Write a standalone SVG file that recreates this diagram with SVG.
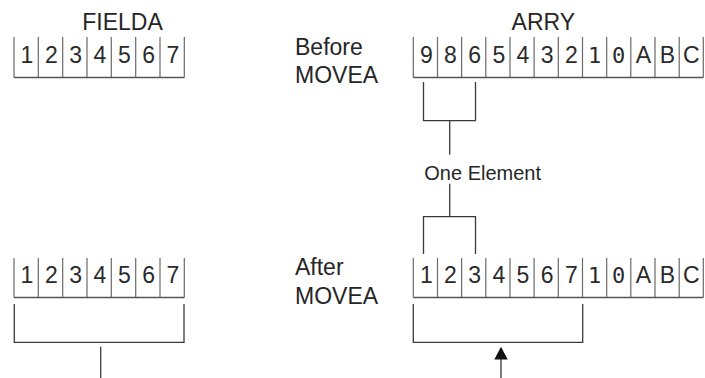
<svg xmlns="http://www.w3.org/2000/svg" width="705" height="378" viewBox="0 0 705 378">
<style>
.bg{fill:#ffffff}
.cv{stroke:#6a6a6a;stroke-width:1.2;fill:none}
.cb{stroke:#555555;stroke-width:1.4;fill:none}
.ln{stroke:#3a3a3a;stroke-width:1.3;fill:none}
.lbl{font-family:"Liberation Sans",Arial,sans-serif;font-size:23px;fill:#262626}
.small{font-family:"Liberation Sans",Arial,sans-serif;font-size:20px;fill:#262626}
.d{font-family:"Liberation Sans",Arial,sans-serif;font-size:23px;fill:#2a2a2a;text-anchor:middle}
.m{font-family:"DejaVu Sans Mono","Liberation Mono",monospace;font-size:22px;fill:#2a2a2a;text-anchor:middle}
</style>
<rect class="bg" x="0" y="0" width="705" height="378"/>

<g id="fielda-before">
  <text class="lbl" x="122.5" y="30" text-anchor="middle">FIELDA</text>
  <path class="cv" d="M14,37V77.5M38.3,37V77.5M62.7,37V77.5M87,37V77.5M111.3,37V77.5M135.7,37V77.5M160,37V77.5M184.3,37V77.5"/>
  <path class="cb" d="M14,77.5H184.3"/>
  <text class="d" x="27" y="63.3">1</text>
  <text class="d" x="51.3" y="63.3">2</text>
  <text class="d" x="75.6" y="63.3">3</text>
  <text class="d" x="100" y="63.3">4</text>
  <text class="d" x="124.3" y="63.3">5</text>
  <text class="d" x="148.6" y="63.3">6</text>
  <text class="d" x="173" y="63.3">7</text>
</g>

<g id="arry-before">
  <text class="lbl" x="543.3" y="30" text-anchor="middle">ARRY</text>
  <text class="lbl" x="295" y="55">Before</text>
  <text class="lbl" x="295" y="82.7">MOVEA</text>
  <path class="cv" d="M413.3,37V77.5M437.5,37V77.5M461.6,37V77.5M485.8,37V77.5M510,37V77.5M534.1,37V77.5M558.3,37V77.5M582.5,37V77.5M606.7,37V77.5M630.8,37V77.5M655,37V77.5M679.2,37V77.5M703.3,37V77.5"/>
  <path class="cb" d="M413.3,77.5H703.3"/>
  <text class="d" x="426.4" y="63.3">9</text>
  <text class="d" x="450.5" y="63.3">8</text>
  <text class="d" x="474.7" y="63.3">6</text>
  <text class="d" x="498.9" y="63.3">5</text>
  <text class="d" x="523" y="63.3">4</text>
  <text class="d" x="547.2" y="63.3">3</text>
  <text class="d" x="571.3" y="63.3">2</text>
  <text class="m" x="594.5" y="63.3">1</text>
  <text class="m" x="618.7" y="63.3">0</text>
  <text class="d" x="643.3" y="63.3">A</text>
  <text class="d" x="667.3" y="63.3">B</text>
  <text class="d" x="691.4" y="63.3">C</text>
</g>

<g id="one-element">
  <text class="small" x="424.3" y="180">One Element</text>
</g>

<g id="fielda-after">
  <path class="cv" d="M14,258V297.5M38.3,258V297.5M62.7,258V297.5M87,258V297.5M111.3,258V297.5M135.7,258V297.5M160,258V297.5M184.3,258V297.5"/>
  <path class="cb" d="M14,297.5H184.3"/>
  <text class="d" x="27" y="283.3">1</text>
  <text class="d" x="51.3" y="283.3">2</text>
  <text class="d" x="75.6" y="283.3">3</text>
  <text class="d" x="100" y="283.3">4</text>
  <text class="d" x="124.3" y="283.3">5</text>
  <text class="d" x="148.6" y="283.3">6</text>
  <text class="d" x="173" y="283.3">7</text>
</g>

<g id="arry-after">
  <text class="lbl" x="295" y="275">After</text>
  <text class="lbl" x="295" y="304">MOVEA</text>
  <path class="cv" d="M413.3,258V297.5M437.5,258V297.5M461.6,258V297.5M485.8,258V297.5M510,258V297.5M534.1,258V297.5M558.3,258V297.5M582.5,258V297.5M606.7,258V297.5M630.8,258V297.5M655,258V297.5M679.2,258V297.5M703.3,258V297.5"/>
  <path class="cb" d="M413.3,297.5H703.3"/>
  <text class="d" x="426.4" y="283.3">1</text>
  <text class="d" x="450.5" y="283.3">2</text>
  <text class="d" x="474.7" y="283.3">3</text>
  <text class="d" x="498.9" y="283.3">4</text>
  <text class="d" x="523" y="283.3">5</text>
  <text class="d" x="547.2" y="283.3">6</text>
  <text class="d" x="571.3" y="283.3">7</text>
  <text class="m" x="594.5" y="283.3">1</text>
  <text class="m" x="618.7" y="283.3">0</text>
  <text class="d" x="643.3" y="283.3">A</text>
  <text class="d" x="667.3" y="283.3">B</text>
  <text class="d" x="691.4" y="283.3">C</text>
</g>

<g id="connectors">
  <path class="ln" d="M423.5,82V120.7H475.5V82M449.7,120.7V154.7"/>
  <path class="ln" d="M449.7,183.7V216.7M423.5,254V216.7H475.5V254"/>
  <path class="ln" d="M14.3,304V342.3H184V304M100.7,346.7V378"/>
  <path class="ln" d="M413.3,304V342.3H582.7V304"/>
  <path class="ln" d="M501,359V378"/>
  <polygon points="494.3,359.5 507.7,359.5 501,346.7" fill="#111111"/>
</g>
</svg>
